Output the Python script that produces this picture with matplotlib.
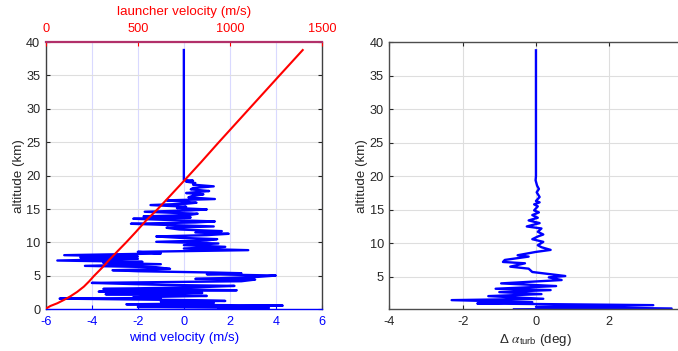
import matplotlib
matplotlib.use("Agg")
import matplotlib.pyplot as plt
import numpy as np

plt.rcParams['font.family'] = ['Liberation Sans', 'DejaVu Sans']
plt.rcParams['mathtext.fontset'] = 'custom'
plt.rcParams['mathtext.rm'] = 'Liberation Sans'
plt.rcParams['mathtext.it'] = 'STIXGeneral:italic'
plt.rcParams['axes.unicode_minus'] = False

# ---- data: wind profile (altitude km, wind m/s) ----
wind_alt = [0.10, 0.20, 0.35, 0.45, 0.55, 0.75, 0.85, 0.95, 1.15, 1.25, 1.35, 1.60, 1.70,
            1.80, 2.00, 2.10, 2.25, 2.45, 2.55, 2.65, 2.85, 2.95, 3.05, 3.30, 3.50, 3.65,
            3.75, 3.95, 4.20, 4.45, 4.55, 4.65, 4.85, 5.05, 5.25, 5.40,
            5.50, 5.70, 5.85, 6.05, 6.30, 6.50, 6.75, 6.95, 7.10, 7.30, 7.55, 7.75, 7.90,
            8.10, 8.35, 8.60, 8.85, 9.10, 9.35, 9.60, 9.85, 10.10, 10.30, 10.50, 10.70,
            10.90, 11.10, 11.30, 11.50, 11.70, 11.95, 12.20, 12.40, 12.60, 12.80, 13.00,
            13.15, 13.35, 13.55, 13.75, 13.90, 14.10, 14.30, 14.60, 14.80, 14.95, 15.15,
            15.35, 15.60, 15.80, 15.95, 16.15, 16.30, 16.50, 16.75, 17.00, 17.20, 17.40,
            17.55, 17.70, 17.95, 18.15, 18.40, 18.65, 18.90, 19.10, 19.25, 19.35, 38.8]
wind_vel = [1.5, 3.7, -2.0, 2.0, 4.3, -2.5, 0.2, 1.3, -1.0, 1.8, 0.8, -5.4, -1.0,
            -2.2, 1.0, -0.5, -3.4, 0.8, -1.5, -3.7, 2.3, -0.2, -3.5, 0.6, 2.2, -0.8,
            -2.0, -4.0, 2.5, 3.1, 0.5, 1.5, 3.2, 4.0, 1.0, 2.5,
            1.3, -2.0, -3.1, -0.6, -1.2, -4.3, -1.0, -3.5, -1.8, -5.5, -2.0, -4.5, -2.0,
            -5.2, -1.0, -2.0, 2.8, 0.0, 1.8, 0.0, 1.5, -1.2, 1.0, 1.45, -0.2,
            -1.2, 1.0, 1.95, 0.5, 1.65, -0.2, -0.75, 1.3, -0.5, -2.3, 0.5,
            1.35, -0.5, -2.2, 0.3, -1.75, 0.2, 0.6, -1.7, 0.3, 1.0, -0.3,
            0.1, -1.45, 0.1, 0.55, -0.2, -0.75, 1.35, 0.2, 0.4, 0.85, 0.1,
            0.6, 1.1, 0.3, 0.4, 1.3, 0.4, 0.5, 0.1, 0.4, 0.0, 0.0]

# ---- data: launcher velocity (altitude km, velocity m/s) ----
launch_alt = [0.1, 0.5, 0.9, 1.4, 1.9, 2.6, 3.4, 4.2, 5.0, 6.2, 7.4, 8.7, 10.0, 11.6,
              13.3, 15.0, 17.0, 19.2, 22.0, 25.0, 30.0, 35.0, 38.8]
launch_vel = [0, 25, 62, 98, 131, 170, 207, 236, 262, 305, 345, 390, 436, 490,
              545, 608, 676, 750, 843, 940, 1105, 1270, 1396]

# ---- data: turbulence angle of attack increment (altitude km, deg) ----
dalpha_alt = [0.13, 0.25, 0.5, 0.75, 1.0, 1.2, 1.5, 1.7, 2.1, 2.4, 2.7, 3.0, 3.2, 3.6,
              4.0, 4.5, 4.9, 5.1, 5.7, 6.2, 6.5, 7.0, 7.2, 7.5, 8.0, 8.2, 8.7, 9.0,
              9.4, 9.7, 10.2, 10.6, 11.0, 11.3, 11.7, 12.2, 12.5, 13.0, 13.4, 13.8,
              14.2, 14.6, 14.9, 15.5, 15.8, 16.1, 16.3, 16.9, 17.6, 18.1, 18.6, 19.4,
              20.0, 38.8]
dalpha = [-0.6, 3.7, 0.0, 3.2, -1.6, -0.1, -2.3, 0.2, -1.3, 0.15, -1.0, 0.4, -1.1, 0.55,
          -0.95, 0.7, 0.35, 0.8, -0.1, -0.2, -0.7, -0.3, -0.9, -0.85, -0.2, -0.5, 0.0, 0.4,
          0.15, 0.05, 0.2, -0.1, 0.05, 0.2, 0.05, 0.15, -0.25, 0.1, -0.2, 0.05,
          -0.1, 0.08, -0.05, 0.05, -0.05, 0.1, 0.0, 0.1, 0.02, 0.08, 0.03, -0.01,
          0.0, 0.0]

wind_ticks = [-6, -4, -2, 0, 2, 4, 6]
launch_ticks = [0, 500, 1000, 1500]
alt_ticks = [0, 5, 10, 15, 20, 25, 30, 35, 40]
dalpha_ticks = [-4, -2, 0, 2]

BLUE = '#0000ff'
RED = '#ff0000'
DARK = '#262626'
FS = 9.2
LFS = 9.6

fig = plt.figure(figsize=(6.78, 3.51), dpi=100)

# ---------------- left panel ----------------
ax1 = fig.add_axes([0.0676, 0.1188, 0.4071, 0.7615])
ax1.plot(wind_vel, wind_alt, color=BLUE, lw=1.7, zorder=3)
ax1.set_xlim(-6, 6)
ax1.set_ylim(0, 40)
ax1.set_xticks(wind_ticks)
ax1.set_yticks(alt_ticks)
ax1.xaxis.grid(True, color='#d9d9ff', lw=0.8)
ax1.yaxis.grid(True, color='#dedede', lw=0.8)
ax1.set_axisbelow(True)
ax1.tick_params(axis='x', colors=BLUE, labelcolor=BLUE, direction='in', length=3,
                labelsize=FS, top=True, pad=5)
ax1.tick_params(axis='y', colors=DARK, labelcolor=DARK, direction='in', length=3,
                labelsize=FS, right=True, pad=4)
ax1.set_xlabel('wind velocity (m/s)', color=BLUE, fontsize=LFS, labelpad=3)
ax1.set_ylabel('altitude (km)', color=DARK, fontsize=LFS, labelpad=1)
ax1.spines['bottom'].set_color(BLUE)
ax1.spines['left'].set_color('#404040')
ax1.spines['right'].set_color('#404040')
ax1.spines['top'].set_visible(False)
for s in ax1.spines.values():
    s.set_linewidth(1.0)

ax2 = ax1.twiny()
ax2.plot(launch_vel, launch_alt, color=RED, lw=1.5, zorder=4)
ax2.set_xlim(0, 1500)
ax2.set_xticks(launch_ticks)
ax2.tick_params(axis='x', colors=RED, labelcolor=RED, direction='in', length=3,
                labelsize=FS, pad=5)
ax2.set_xlabel('launcher velocity (m/s)', color=RED, fontsize=LFS, labelpad=6)
for k in ['left', 'right', 'bottom']:
    ax2.spines[k].set_visible(False)
ax2.spines['top'].set_color('#b2306a')
ax2.spines['top'].set_linewidth(1.6)

# ---------------- right panel ----------------
ax3 = fig.add_axes([0.5742, 0.1188, 0.4326, 0.7607])
ax3.plot(dalpha, dalpha_alt, color=BLUE, lw=1.7)
ax3.set_xlim(-4, 4)
ax3.set_ylim(0.13, 40)
ax3.set_xticks(dalpha_ticks)
ax3.set_yticks(alt_ticks[1:])
ax3.grid(True, color='#dedede', lw=0.8)
ax3.set_axisbelow(True)
ax3.tick_params(axis='both', colors=DARK, labelcolor=DARK, direction='in', length=3,
                labelsize=FS, top=True, right=True, pad=5)
ax3.tick_params(axis='y', pad=4)
ax3.set_xlabel(r'$\Delta$ $\alpha_{\mathrm{turb}}$ (deg)', color=DARK, fontsize=LFS, labelpad=3)
ax3.set_ylabel('altitude (km)', color=DARK, fontsize=LFS, labelpad=1)
for s in ax3.spines.values():
    s.set_color('#4d4d4d')
    s.set_linewidth(1.0)

fig.savefig('out.png', dpi=100)
